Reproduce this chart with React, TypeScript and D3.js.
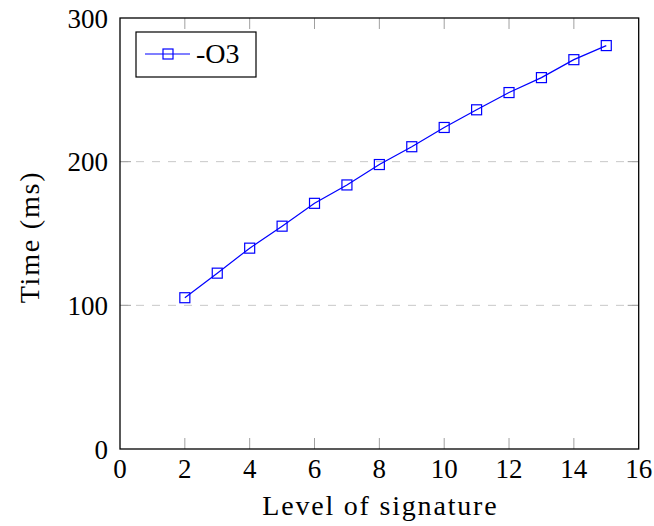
import React from 'react';
import * as d3 from 'd3';

// signature level vs time (ms), -O3 build
const levels = [2, 3, 4, 5, 6, 7, 8, 9, 10, 11, 12, 13, 14, 15];
const timesMs = [105.3, 122.4, 139.8, 155.1, 171.0, 183.8, 198.0, 210.4, 223.8, 236.1, 248.1, 258.5, 271.0, 280.8];
const xTicks = [0, 2, 4, 6, 8, 10, 12, 14, 16];
const yTicks = [0, 100, 200, 300];
const seriesName = '-O3';

const W = 654, H = 526;
const margins = { left: 120, right: 15.3, top: 18, bottom: 77 };
const font = "'Liberation Serif', 'DejaVu Serif', serif";
const blue = '#0000ff';
const tickLen = 11;

export default function App() {
  const x = d3.scaleLinear().domain([0, 16]).range([margins.left, W - margins.right]);
  const y = d3.scaleLinear().domain([0, 300]).range([H - margins.bottom, margins.top]);
  const pts = levels.map((l, i) => ({ l, t: timesMs[i] }));
  const line = d3.line<{ l: number; t: number }>().x(d => x(d.l)).y(d => y(d.t));
  const x0 = x.range()[0], x1 = x.range()[1], y0 = y.range()[0], y1 = y.range()[1];
  const ms = 10;

  return (
    <svg width={W} height={H} style={{ position: 'absolute', left: 0, top: 0, fontFamily: font }}>
      <rect width={W} height={H} fill="#fff" />
      {/* grid */}
      {yTicks.filter(t => t > 0 && t < 300).map(t => (
        <line key={'g' + t} x1={x0} x2={x1} y1={y(t)} y2={y(t)} stroke="#c8c8c8" strokeWidth={1} strokeDasharray="8,8" />
      ))}
      {/* ticks */}
      {xTicks.filter(t => t > 0 && t < 16).map(t => (
        <g key={'xt' + t} stroke="#a0a0a0" strokeWidth={1}>
          <line x1={x(t)} x2={x(t)} y1={y0} y2={y0 - tickLen} />
          <line x1={x(t)} x2={x(t)} y1={y1} y2={y1 + tickLen} />
        </g>
      ))}
      {yTicks.filter(t => t > 0 && t < 300).map(t => (
        <g key={'yt' + t} stroke="#a0a0a0" strokeWidth={1}>
          <line x1={x0} x2={x0 + tickLen} y1={y(t)} y2={y(t)} />
          <line x1={x1} x2={x1 - tickLen} y1={y(t)} y2={y(t)} />
        </g>
      ))}
      <rect x={x0} y={y1} width={x1 - x0} height={y0 - y1} fill="none" stroke="#000" strokeWidth={1.3} />
      {/* tick labels */}
      {xTicks.map(t => (
        <text key={'xl' + t} x={x(t)} y={478} textAnchor="middle" fontSize={27} fill="#000">{t}</text>
      ))}
      {yTicks.map(t => (
        <text key={'yl' + t} x={108} y={y(t) + 9.5} textAnchor="end" fontSize={27} fill="#000">{t}</text>
      ))}
      {/* axis labels */}
      <text x={(x0 + x1) / 2 + 1} y={515} textAnchor="middle" fontSize={28} letterSpacing={1.8} fill="#000">Level of signature</text>
      <text transform={`translate(39,237) rotate(-90)`} textAnchor="middle" fontSize={28} letterSpacing={1.8} fill="#000">Time (ms)</text>
      {/* series */}
      <path d={line(pts) || ''} fill="none" stroke={blue} strokeWidth={1.2} />
      {pts.map(p => (
        <rect key={'m' + p.l} x={x(p.l) - ms / 2} y={y(p.t) - ms / 2} width={ms} height={ms} fill="none" stroke={blue} strokeWidth={1.2} />
      ))}
      {/* legend */}
      <rect x={136} y={32} width={120} height={45} fill="#fff" stroke="#000" strokeWidth={1.2} />
      <line x1={145} x2={190} y1={54} y2={54} stroke={blue} strokeWidth={1.2} />
      <rect x={168 - ms / 2} y={54 - ms / 2} width={ms} height={ms} fill="none" stroke={blue} strokeWidth={1.2} />
      <text x={196} y={63} fontSize={28} fill="#000">{seriesName}</text>
    </svg>
  );
}
